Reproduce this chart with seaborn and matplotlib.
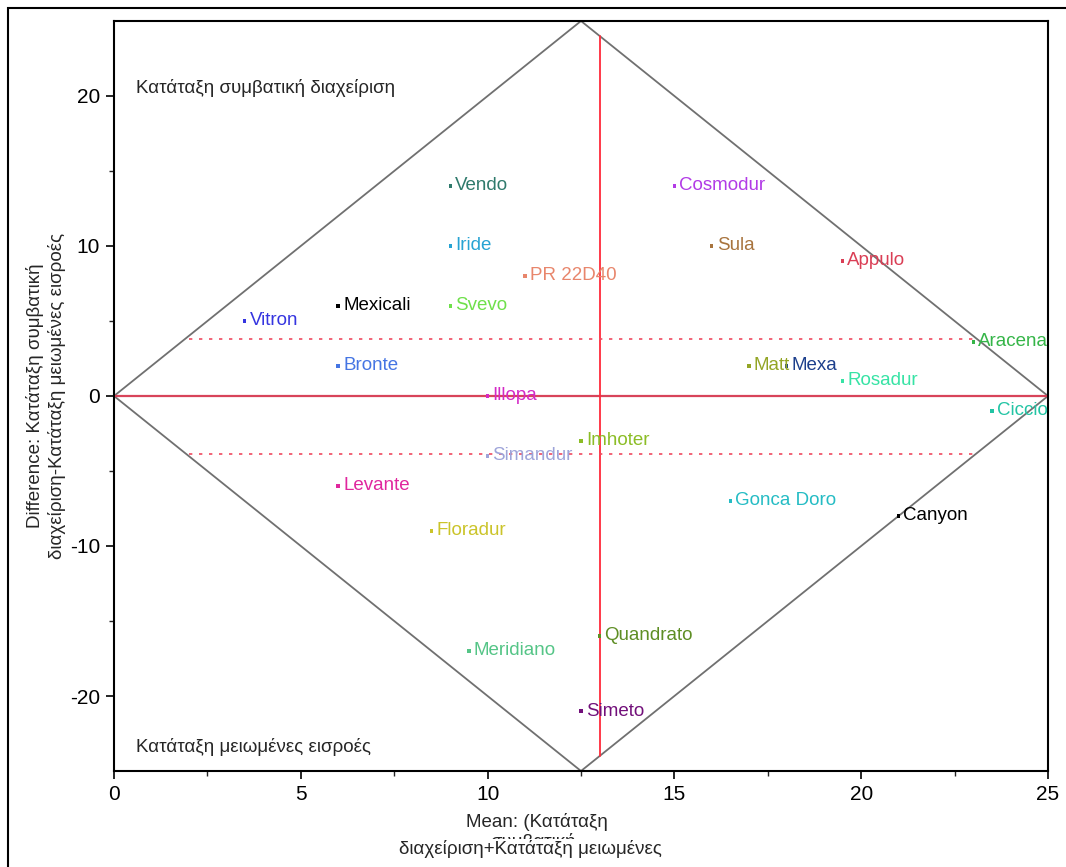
import matplotlib
matplotlib.use("Agg")
import matplotlib.pyplot as plt
from matplotlib.patches import Rectangle
import seaborn as sns
import pandas as pd

# Varieties: mean rank (x) and rank difference (y)
varieties = ["Vendo", "Iride", "PR 22D40", "Mexicali", "Svevo", "Vitron",
             "Cosmodur", "Sula", "Appulo", "Aracena", "Matt", "Mexa",
             "Rosadur", "Ciccio", "Bronte", "Illopa", "Imhoter", "Simandur",
             "Levante", "Floradur", "Gonca Doro", "Canyon", "Quandrato",
             "Meridiano", "Simeto"]
mean_rank = [9, 9, 11, 6, 9, 3.5,
             15, 16, 19.5, 23.0, 17, 18,
             19.5, 23.5, 6, 10, 12.5, 10,
             6, 8.5, 16.5, 21, 13,
             9.5, 12.5]
diff_rank = [14, 10, 8, 6, 6, 5,
             14, 10, 9, 3.6, 2, 2,
             1, -1, 2, 0, -3, -4,
             -6, -9, -7, -8, -16,
             -17, -21]
colors = ["#2f7a6c", "#27a3d3", "#e8866c", "#000000", "#6ee04a", "#3535e0",
          "#b23be6", "#a8743e", "#da3e55", "#35b548", "#93a525", "#1c3f8c",
          "#37e3a5", "#22c4a4", "#4575e3", "#d42ac6", "#8cbd26", "#9ea4d9",
          "#e0279e", "#cbc42a", "#25bcc4", "#000000", "#5e8e24",
          "#55c587", "#72107a"]

mean_line = 13
limit_upper = 3.8
limit_lower = -3.9

df = pd.DataFrame({"variety": varieties, "mean": mean_rank, "diff": diff_rank})
palette = dict(zip(varieties, colors))

sns.set_theme(style="white")
plt.rcParams["font.family"] = ["Liberation Sans", "DejaVu Sans"]
plt.rcParams["axes.unicode_minus"] = False

FS = 13.5

fig = plt.figure(figsize=(10.66, 8.67), dpi=100)
ax = fig.add_axes([114 / 1066, 1 - 771 / 867, (1048 - 114) / 1066, (771 - 21) / 867])

# outer frame
fig.patches.append(Rectangle((8 / 1066, -0.1), 1.2, 1 - 8 / 867 + 0.1,
                             transform=fig.transFigure, fill=False,
                             edgecolor="black", linewidth=1.5))

# diamond of admissible rank combinations
ax.plot([0, 12.5, 25, 12.5, 0], [0, 25, 0, -25, 0], color="#707070", lw=1.3, zorder=1)
# reference lines
ax.plot([0, 25], [0, 0], color="#d8445a", lw=1.6, zorder=1)
ax.plot([mean_line, mean_line], [-24, 24], color="#ff2a3a", lw=1.3, zorder=1)
ax.plot([2, 23], [limit_upper, limit_upper], color="#f04a60", lw=1.2, ls=(0, (2, 4)), zorder=1)
ax.plot([2, 23], [limit_lower, limit_lower], color="#f04a60", lw=1.2, ls=(0, (2, 4)), zorder=1)

sns.scatterplot(data=df, x="mean", y="diff", hue="variety", palette=palette,
                marker="s", s=6, linewidth=0, legend=False, ax=ax, zorder=3)

for name, xv, yv, c in zip(varieties, mean_rank, diff_rank, colors):
    ax.annotate(name, (xv, yv), xytext=(3.5, 0), textcoords="offset points",
                color=c, fontsize=FS, va="center", ha="left", zorder=4)

ax.text(0.6, 20.5, "Κατάταξη συμβατική διαχείριση", fontsize=FS, va="center", ha="left")
ax.text(0.6, -23.4, "Κατάταξη μειωμένες εισροές", fontsize=FS, va="center", ha="left")

ax.set_xlim(0, 25)
ax.set_ylim(-25, 25)
ax.set_xticks([0, 5, 10, 15, 20, 25])
ax.set_xticks([2.5, 7.5, 12.5, 17.5, 22.5], minor=True)
ax.set_yticks([-20, -10, 0, 10, 20])
ax.set_yticks([-15, -5, 5, 15], minor=True)
ax.tick_params(axis="both", which="major", direction="out", length=6, width=1.2,
               labelsize=15, colors="black", pad=4,
               bottom=True, left=True, top=False, right=False)
ax.tick_params(axis="both", which="minor", direction="out", length=3.5, width=1.0,
               bottom=True, left=True, top=False, right=False)
for sp in ax.spines.values():
    sp.set_color("black")
    sp.set_linewidth(1.5)

ax.set_xlabel("")
ax.set_ylabel("Difference: Κατάταξη συμβατική\nδιαχείριση-Κατάταξη μειωμένες εισροές",
              fontsize=FS, labelpad=3, linespacing=1.25)

# x-axis title (the middle line is partly covered by the last one)
fig.text(537 / 1066, 1 - 822 / 867, "Mean: (Κατάταξη", fontsize=FS, ha="center", va="center")
fig.text(533 / 1066, 1 - 842 / 867, "συμβατική", fontsize=FS, ha="center", va="center")
fig.text(530 / 1066, 1 - 849 / 867, "διαχείριση+Κατάταξη μειωμένες", fontsize=FS,
         ha="center", va="center",
         bbox=dict(facecolor="white", edgecolor="none", pad=0.5))

fig.savefig("out.png", dpi=100, facecolor="white")
